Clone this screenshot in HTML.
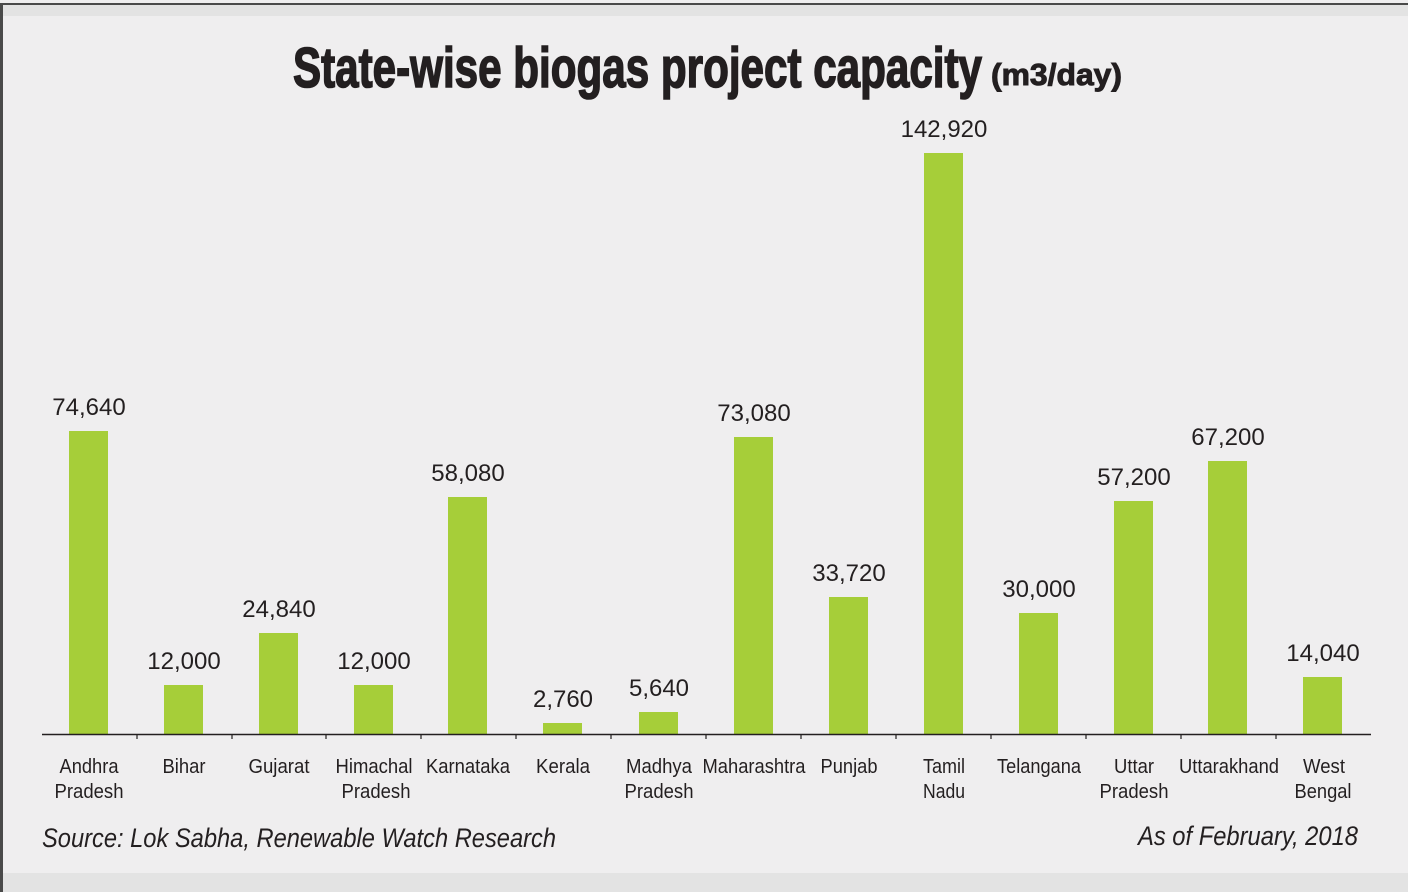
<!DOCTYPE html>
<html><head><meta charset="utf-8"><style>
html,body{margin:0;padding:0;background:#efeeef;}
svg{display:block;}
text{font-family:"Liberation Sans",sans-serif;fill:#231f20;}
</style></head><body>
<svg width="1408" height="892" xmlns="http://www.w3.org/2000/svg">
<rect x="0" y="0" width="1408" height="892" fill="#efeeef"/>
<rect x="0" y="4" width="1408" height="12" fill="#e3e3e3"/>
<rect x="0" y="873" width="1408" height="19" fill="#e3e3e3"/>
<rect x="0" y="3" width="1408" height="2" fill="#4a4a4a"/>
<rect x="0" y="3" width="3" height="889" fill="#4a4a4a"/>
<text x="293" y="87" font-size="57" font-weight="bold" stroke="#231f20" stroke-width="1.6" textLength="689" lengthAdjust="spacingAndGlyphs">State-wise biogas project capacity</text>
<text x="991" y="85" font-size="31" font-weight="bold" stroke="#231f20" stroke-width="1" textLength="131" lengthAdjust="spacingAndGlyphs">(m3/day)</text>
<g fill="#a6ce39">
<rect x="69" y="431" width="39" height="303"/>
<rect x="164" y="685" width="39" height="49"/>
<rect x="259" y="633" width="39" height="101"/>
<rect x="354" y="685" width="39" height="49"/>
<rect x="448" y="497" width="39" height="237"/>
<rect x="543" y="723" width="39" height="11"/>
<rect x="639" y="712" width="39" height="22"/>
<rect x="734" y="437" width="39" height="297"/>
<rect x="829" y="597" width="39" height="137"/>
<rect x="924" y="153" width="39" height="581"/>
<rect x="1019" y="613" width="39" height="121"/>
<rect x="1114" y="501" width="39" height="233"/>
<rect x="1208" y="461" width="39" height="273"/>
<rect x="1303" y="677" width="39" height="57"/>
</g>
<line x1="42" y1="734.5" x2="1371" y2="734.5" stroke="#231f20" stroke-width="1.5"/>
<g stroke="#231f20" stroke-width="1.2">
<line x1="137" y1="735" x2="137" y2="739"/><line x1="232" y1="735" x2="232" y2="739"/>
<line x1="326" y1="735" x2="326" y2="739"/><line x1="421" y1="735" x2="421" y2="739"/>
<line x1="516" y1="735" x2="516" y2="739"/><line x1="611" y1="735" x2="611" y2="739"/>
<line x1="706" y1="735" x2="706" y2="739"/><line x1="801" y1="735" x2="801" y2="739"/>
<line x1="896" y1="735" x2="896" y2="739"/><line x1="991" y1="735" x2="991" y2="739"/>
<line x1="1086" y1="735" x2="1086" y2="739"/><line x1="1181" y1="735" x2="1181" y2="739"/>
<line x1="1276" y1="735" x2="1276" y2="739"/>
</g>
<g font-size="24" text-anchor="middle">
<text x="89" y="415">74,640</text>
<text x="184" y="669">12,000</text>
<text x="279" y="617">24,840</text>
<text x="374" y="669">12,000</text>
<text x="468" y="481">58,080</text>
<text x="563" y="707">2,760</text>
<text x="659" y="696">5,640</text>
<text x="754" y="421">73,080</text>
<text x="849" y="581">33,720</text>
<text x="944" y="137">142,920</text>
<text x="1039" y="597">30,000</text>
<text x="1134" y="485">57,200</text>
<text x="1228" y="445">67,200</text>
<text x="1323" y="661">14,040</text>
</g>
<g font-size="20" text-anchor="middle">
<text x="89" y="773" textLength="59" lengthAdjust="spacingAndGlyphs">Andhra</text>
<text x="89" y="798" textLength="69" lengthAdjust="spacingAndGlyphs">Pradesh</text>
<text x="184" y="773" textLength="43" lengthAdjust="spacingAndGlyphs">Bihar</text>
<text x="279" y="773" textLength="61" lengthAdjust="spacingAndGlyphs">Gujarat</text>
<text x="374" y="773" textLength="77" lengthAdjust="spacingAndGlyphs">Himachal</text>
<text x="376" y="798" textLength="69" lengthAdjust="spacingAndGlyphs">Pradesh</text>
<text x="468" y="773" textLength="84" lengthAdjust="spacingAndGlyphs">Karnataka</text>
<text x="563" y="773" textLength="54" lengthAdjust="spacingAndGlyphs">Kerala</text>
<text x="659" y="773" textLength="66" lengthAdjust="spacingAndGlyphs">Madhya</text>
<text x="659" y="798" textLength="69" lengthAdjust="spacingAndGlyphs">Pradesh</text>
<text x="754" y="773" textLength="103" lengthAdjust="spacingAndGlyphs">Maharashtra</text>
<text x="849" y="773" textLength="57" lengthAdjust="spacingAndGlyphs">Punjab</text>
<text x="944" y="773" textLength="42" lengthAdjust="spacingAndGlyphs">Tamil</text>
<text x="944" y="798" textLength="42" lengthAdjust="spacingAndGlyphs">Nadu</text>
<text x="1039" y="773" textLength="84" lengthAdjust="spacingAndGlyphs">Telangana</text>
<text x="1134" y="773" textLength="40" lengthAdjust="spacingAndGlyphs">Uttar</text>
<text x="1134" y="798" textLength="69" lengthAdjust="spacingAndGlyphs">Pradesh</text>
<text x="1229" y="773" textLength="100" lengthAdjust="spacingAndGlyphs">Uttarakhand</text>
<text x="1324" y="773" textLength="42" lengthAdjust="spacingAndGlyphs">West</text>
<text x="1323" y="798" textLength="57" lengthAdjust="spacingAndGlyphs">Bengal</text>
</g>
<text x="42" y="847" font-size="27" font-style="italic" textLength="514" lengthAdjust="spacingAndGlyphs">Source: Lok Sabha, Renewable Watch Research</text>
<text x="1138" y="845" font-size="27" font-style="italic" textLength="220" lengthAdjust="spacingAndGlyphs">As of February, 2018</text>
</svg>
</body></html>
